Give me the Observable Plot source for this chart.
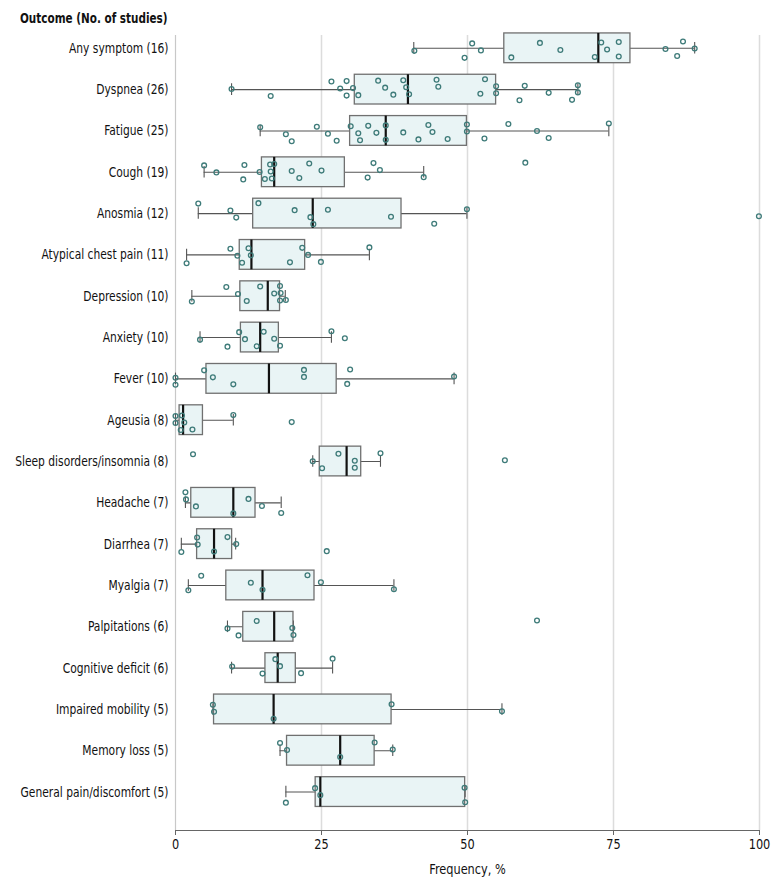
<!DOCTYPE html>
<html><head><meta charset="utf-8">
<script src="https://cdn.jsdelivr.net/npm/d3@7"></script>
<script src="https://cdn.jsdelivr.net/npm/@observablehq/plot@0.6"></script>
<style>
body{margin:0;background:#fff;font-family:"DejaVu Sans Condensed","DejaVu Sans",sans-serif;}
#title{height:28px;padding-left:20px;font-weight:bold;font-size:14.5px;line-height:36px;color:#111;white-space:nowrap;transform:scaleX(0.8);transform-origin:20px 0}
</style></head><body>
<div id="title">Outcome (No. of studies)</div>
<div id="chart"></div>
<script>
const outcomes = ["Any symptom (16)","Dyspnea (26)","Fatigue (25)","Cough (19)","Anosmia (12)","Atypical chest pain (11)","Depression (10)","Anxiety (10)","Fever (10)","Ageusia (8)","Sleep disorders/insomnia (8)","Headache (7)","Diarrhea (7)","Myalgia (7)","Palpitations (6)","Cognitive deficit (6)","Impaired mobility (5)","Memory loss (5)","General pain/discomfort (5)"];
const q1 =        [56.3,30.7,29.9,14.8,13.3,11.0,11.1,11.2, 5.3, 0.7,24.7, 2.7,3.7, 8.7,11.6,15.4, 6.6,19.1,24.0];
const median =    [72.4,39.8,36.0,16.9,23.5,13.0,15.8,14.5,16.0, 1.3,29.3, 9.9,6.6,14.9,16.9,17.5,16.8,28.2,24.8];
const q3 =        [77.9,54.9,49.9,29.0,38.7,22.2,17.9,17.7,27.6, 4.7,31.8,13.7,9.7,23.8,20.2,20.6,37.0,34.1,49.6];
const whiskerLo = [40.8, 9.6,14.5, 4.9, 3.9, 1.9, 2.8, 4.2, 0.0, 0.0,23.5, 1.7,1.0, 2.2, 8.9, 9.6, 6.4,17.9,18.9];
const whiskerHi = [88.9,68.9,74.2,42.5,49.9,33.2,18.8,26.7,47.7, 9.9,35.1,18.1,10.3,37.4,20.2,26.9,55.9,37.2,49.6];
const studyValues = [
  [40.9,49.5,50.8,52.3,57.5,62.4,65.9,71.8,72.9,73.9,75.9,75.9,83.9,85.9,86.9,88.9],
  [9.6,16.3,26.7,28.2,29.3,29.3,30.4,31.3,34.7,35.9,37.3,39.0,39.5,40.0,44.7,45.0,52.2,53.0,54.9,54.9,58.9,59.8,63.9,67.9,68.9,68.9],
  [14.5,18.9,19.9,24.2,26.1,27.6,30.0,31.3,31.6,33.0,34.4,36.0,36.0,39.0,41.6,43.3,44.0,46.6,49.9,49.9,52.9,57.0,61.9,63.9,74.2],
  [4.9,7.0,11.6,11.8,14.4,15.3,16.2,16.3,16.5,16.9,19.9,21.2,22.9,25.0,32.9,33.9,35.0,42.5,59.9],
  [3.9,9.4,10.4,14.2,20.4,23.1,23.6,26.1,36.9,44.3,49.9,99.9],
  [1.9,9.4,10.6,11.4,12.5,12.9,19.6,21.7,22.7,24.9,33.2],
  [2.8,8.7,10.7,12.2,14.5,16.9,17.9,17.9,18.0,18.9],
  [4.2,8.9,10.9,11.9,13.9,15.1,16.9,17.9,26.7,29.0],
  [0.0,0.0,4.9,6.4,9.9,22.0,22.0,29.4,29.9,47.7],
  [0.0,0.0,0.9,1.1,1.5,2.9,9.9,19.9],
  [3.0,23.5,25.1,27.9,30.7,30.7,35.1,56.4],
  [1.7,1.8,3.5,9.9,12.5,14.8,18.1],
  [1.0,3.7,3.8,6.6,8.9,10.4,25.9],
  [2.2,4.4,12.9,14.9,22.6,24.9,37.4],
  [8.9,10.8,13.9,20.0,20.2,61.9],
  [9.7,14.9,17.1,17.9,21.5,26.9],
  [6.4,6.6,16.8,37.0,55.9],
  [17.9,19.1,28.2,34.1,37.2],
  [18.9,23.9,24.8,49.6,49.5]
];
const xTicks = [0,25,50,75,100];

const rows = outcomes.map((name,i)=>({i,name,q1:q1[i],med:median[i],q3:q3[i],lo:whiskerLo[i],hi:whiskerHi[i]}));
const pts = [];
studyValues.forEach((vals,i)=>vals.forEach((v,j)=>{
  const u = ((j*7 + i*3 + 1) * 0.6180339887) % 1;
  pts.push({i, v, jit:(u-0.5)*0.52});
}));
const B = 0.36, T = 0.14;
const yMin = -0.31, yMax = 18.93;
const font = '"DejaVu Sans Condensed","DejaVu Sans",sans-serif';

const chart = Plot.plot({
  width:780, height:853,
  marginLeft:175, marginRight:21, marginTop:7, marginBottom:51,
  style:{fontFamily:font, fontSize:"14px", color:"#111", background:"#fff"},
  x:{domain:[0,100]},
  y:{domain:[yMin,yMax], reverse:true},
  marks:[
    Plot.ruleX(xTicks.filter(d=>d>0), {stroke:"#dcdcdc", strokeWidth:1.5}),
    Plot.ruleX([0], {stroke:"#c8c8c8", strokeWidth:1.2}),
    Plot.ruleY(rows, {y:"i", x1:"lo", x2:"hi", stroke:"#555", strokeWidth:1.1}),
    Plot.ruleX(rows, {x:"lo", y1:d=>d.i-T, y2:d=>d.i+T, stroke:"#555", strokeWidth:1.1}),
    Plot.ruleX(rows, {x:"hi", y1:d=>d.i-T, y2:d=>d.i+T, stroke:"#555", strokeWidth:1.1}),
    Plot.rect(rows, {x1:"q1", x2:"q3", y1:d=>d.i-B, y2:d=>d.i+B, fill:"#e9f4f5", stroke:"#707070", strokeWidth:1.3}),
    Plot.ruleX(rows, {x:"med", y1:d=>d.i-B, y2:d=>d.i+B, stroke:"#111", strokeWidth:2.2}),
    Plot.dot(pts, {x:"v", y:d=>d.i+d.jit, r:2.4, stroke:"#3e7b79", strokeWidth:1.3, fill:"none"}),
    Plot.ruleY([yMax], {stroke:"#666", strokeWidth:1.2}),
    Plot.axisX({ticks:xTicks, tickSize:5, tickPadding:4, stroke:"#666", fill:"#111", fontSize:14,
      label:"Frequency, %", labelAnchor:"center", labelArrow:"none", labelOffset:43}),
    Plot.axisY({ticks:d3.range(outcomes.length), tickSize:0, tickPadding:7, fill:"#111", fontSize:14,
      tickFormat:i=>outcomes[i], label:null})
  ]
});
// condense text horizontally to mimic the reference's narrow typeface
function condense(sel, s){
  chart.querySelectorAll(sel).forEach(t=>{
    const xa = t.getAttribute("x");
    const x = (xa && /^-?[\d.]+$/.test(xa)) ? +xa : 0;
    const tr = t.getAttribute("transform")||"";
    t.setAttribute("transform", `${tr} translate(${x},0) scale(${s},1) translate(${-x},0)`.trim());
  });
}
condense('g[aria-label="y-axis tick label"] text', 0.85);
condense('g[aria-label="x-axis label"] text', 0.9);
condense('g[aria-label="x-axis tick label"] text', 0.9);
document.getElementById("chart").appendChild(chart);
</script>
</body></html>
